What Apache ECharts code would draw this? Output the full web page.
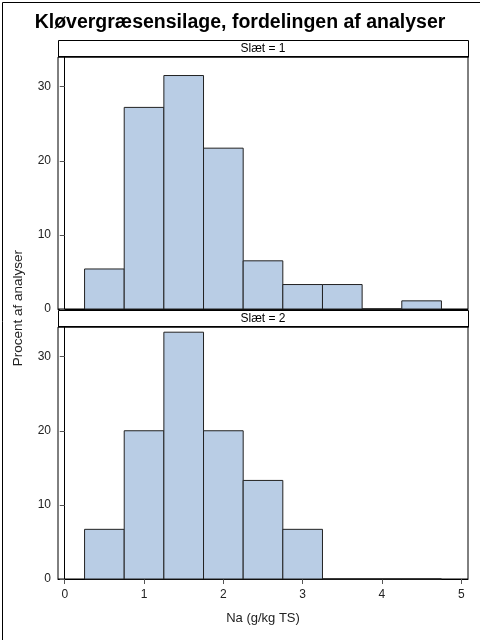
<!DOCTYPE html>
<html>
<head>
<meta charset="utf-8">
<script src="https://cdn.jsdelivr.net/npm/echarts@6/dist/echarts.min.js"></script>
<style>
    html, body { margin: 0; padding: 0; background: #fff; }
    #main { width: 480px; height: 640px; }
</style>
</head>
<body>
<div id="main"></div>
<script>
/* 数据 */
let binCenters = [0.5, 1.0, 1.5, 2.0, 2.5, 3.0, 3.5, 4.0, 4.5];
let binWidth = 0.5;
let slaet1 = [5.4, 27.2, 31.5, 21.7, 6.5, 3.3, 3.3, 0, 1.1];
let slaet2 = [6.7, 20.0, 33.3, 20.0, 13.3, 6.7, 0, 0, 0];
let xTicks = [0, 1, 2, 3, 4, 5];
let yTicks = [0, 10, 20, 30];
let panelLabels = ['Slæt = 1', 'Slæt = 2'];

let font = '"Liberation Sans", Arial, sans-serif';

let toPairs = function (vals) {
    return binCenters.map(function (c, i) { return [c, vals[i]]; });
};

let renderBar = function (params, api) {
    let x = api.value(0), y = api.value(1);
    let p0 = api.coord([x - binWidth / 2, y]);
    let p1 = api.coord([x + binWidth / 2, 0]);
    return {
        type: 'rect',
        shape: { x: p0[0], y: p0[1], width: p1[0] - p0[0], height: p1[1] - p0[1] },
        style: { fill: '#b9cde5', stroke: '#222', lineWidth: 1 }
    };
};

let xAxisBase = function (gridIndex, showLabels) {
    return {
        type: 'value', gridIndex: gridIndex, min: -0.085, max: 5.085,
        axisLine: { show: true, lineStyle: { color: '#000', width: 1 } },
        axisTick: { show: showLabels, length: 5, customValues: xTicks, lineStyle: { color: '#555' } },
        axisLabel: { show: showLabels, customValues: xTicks, margin: 10, color: '#222', fontSize: 12, fontFamily: font },
        splitLine: { show: false },
        name: showLabels ? 'Na (g/kg TS)' : '',
        nameLocation: 'middle', nameGap: 33,
        nameTextStyle: { color: '#222', fontSize: 13, fontFamily: font }
    };
};

let yAxisBase = function (gridIndex) {
    return {
        type: 'value', gridIndex: gridIndex, min: 0, max: 34,
        axisLine: { show: true, lineStyle: { color: '#000', width: 1 } },
        axisTick: { show: true, length: 5, customValues: yTicks, lineStyle: { color: '#555' } },
        axisLabel: { customValues: yTicks, margin: 7, color: '#222', fontSize: 12, fontFamily: font },
        splitLine: { show: false }
    };
};

let stripGraphic = function (top, text) {
    return {
        type: 'group', left: 58, top: top,
        children: [
            { type: 'rect', shape: { x: 0.5, y: 0.5, width: 410, height: 16 },
              style: { fill: '#fff', stroke: '#000', lineWidth: 1 } },
            { type: 'rect', shape: { x: 0, y: 16, width: 411, height: 1.5 },
              style: { fill: '#000' } },
            { type: 'text', x: 205, y: 9,
              style: { text: text, fill: '#000', font: '12px ' + font, align: 'center', verticalAlign: 'middle' } }
        ]
    };
};

let myChart = echarts.init(document.getElementById('main'));
let options = {
    animation: false,
    title: {
        text: 'Kløvergræsensilage, fordelingen af analyser',
        left: 'center', top: 8,
        textStyle: { fontSize: 19.5, fontWeight: 'bold', color: '#000', fontFamily: font }
    },
    grid: [
        { left: 58, right: 12, top: 57, height: 252, show: true, borderColor: '#000', borderWidth: 1 },
        { left: 58, right: 12, top: 327, height: 252, show: true, borderColor: '#000', borderWidth: 1 }
    ],
    xAxis: [xAxisBase(0, false), xAxisBase(1, true)],
    yAxis: [yAxisBase(0), yAxisBase(1)],
    series: [
        { type: 'custom', xAxisIndex: 0, yAxisIndex: 0, renderItem: renderBar, data: toPairs(slaet1) },
        { type: 'custom', xAxisIndex: 1, yAxisIndex: 1, renderItem: renderBar, data: toPairs(slaet2) }
    ],
    graphic: [
        { type: 'rect', left: 0, top: 0, shape: { x: 0.5, y: 0.5, width: 479, height: 639 },
          style: { fill: 'none', stroke: '#000', lineWidth: 1 }, z: 100 },
        stripGraphic(40, panelLabels[0]),
        stripGraphic(310, panelLabels[1]),
        { type: 'text', left: 11, top: 250, rotation: Math.PI / 2,
          style: { text: 'Procent af analyser', fill: '#222', font: '13.5px ' + font } }
    ]
};
myChart.setOption(options);
</script>
</body>
</html>
